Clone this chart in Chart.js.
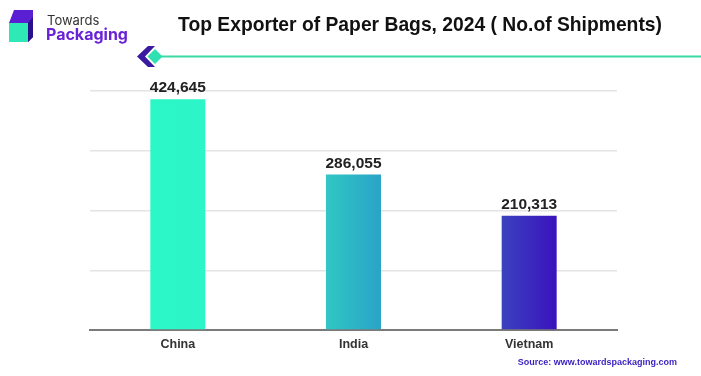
<!DOCTYPE html>
<html><head><meta charset="utf-8">
<script src="https://cdn.jsdelivr.net/npm/chart.js@4/dist/chart.umd.min.js"></script>
<style>html,body{margin:0;padding:0;background:#fff;}#wrap{width:701px;height:376px;position:relative;}</style>
</head><body><div id="wrap"><canvas id="c" width="701" height="376"></canvas></div>
<script>
const categories = ["China", "India", "Vietnam"];
const shipments = [424645, 286055, 210313];
const valueLabels = ["424,645", "286,055", "210,313"];
const titleText = "Top Exporter of Paper Bags, 2024 ( No.of Shipments)";
const sourceText = "Source: www.towardspackaging.com";
const barColors = [["#2bf7c6", "#2cf5c8"], ["#2fc7c4", "#2aa3c8"], ["#3a42bf", "#3a12bd"]];

const FONT = "'Liberation Sans', Arial, sans-serif";
const LOGOFONT = "Inter, Roboto, sans-serif";

const decor = {
  id: 'decor',
  afterDraw(chart) {
    const ctx = chart.ctx;
    ctx.save();
    // logo
    ctx.fillStyle = '#5a1fd3';
    ctx.beginPath(); ctx.moveTo(14,10); ctx.lineTo(33,10); ctx.lineTo(33,37); ctx.lineTo(28,42); ctx.lineTo(28,23); ctx.lineTo(9,23); ctx.closePath(); ctx.fill();
    ctx.fillStyle = '#2a0f8a';
    ctx.beginPath(); ctx.moveTo(28,23); ctx.lineTo(33,17); ctx.lineTo(33,37); ctx.lineTo(28,42); ctx.closePath(); ctx.fill();
    ctx.fillStyle = '#2ee8b6';
    ctx.fillRect(9,23,19,19);
    ctx.textBaseline = 'alphabetic'; ctx.textAlign = 'left';
    ctx.fillStyle = '#333'; ctx.font = "13px " + LOGOFONT;
    ctx.fillText('Towards', 47, 25);
    ctx.fillStyle = '#6a22d6'; ctx.font = "bold 16px " + LOGOFONT;
    ctx.fillText('Packaging', 46, 40);
    // title
    ctx.fillStyle = '#111'; ctx.font = "bold 19.3px " + FONT; ctx.textAlign = 'center';
    ctx.fillText(titleText, 420, 31);
    // divider
    ctx.strokeStyle = '#3ddaa6'; ctx.lineWidth = 2;
    ctx.beginPath(); ctx.moveTo(160,56.5); ctx.lineTo(701,56.5); ctx.stroke();
    ctx.fillStyle = '#3a1a9e';
    ctx.beginPath(); ctx.moveTo(148,46); ctx.lineTo(155,46); ctx.lineTo(145,56.5); ctx.lineTo(155,67); ctx.lineTo(148,67); ctx.lineTo(137,56.5); ctx.closePath(); ctx.fill();
    ctx.fillStyle = '#2ee0b2';
    ctx.beginPath(); ctx.moveTo(155,49); ctx.lineTo(162.5,56.5); ctx.lineTo(155,64); ctx.lineTo(147.5,56.5); ctx.closePath(); ctx.fill();
    // value labels
    const meta = chart.getDatasetMeta(0);
    ctx.fillStyle = '#222'; ctx.font = "bold 15.5px " + FONT; ctx.textAlign = 'center'; ctx.textBaseline = 'alphabetic';
    meta.data.forEach((bar, i) => { ctx.fillText(valueLabels[i], bar.x, bar.y - 7); });
    // source
    ctx.fillStyle = '#3a1fc0'; ctx.font = "bold 9px " + FONT; ctx.textAlign = 'right';
    ctx.fillText(sourceText, 677, 365);
    ctx.restore();
  }
};

new Chart(document.getElementById('c'), {
  type: 'bar',
  data: {
    labels: categories,
    datasets: [{
      data: shipments,
      backgroundColor(ctx) {
        const chart = ctx.chart; const area = chart.chartArea;
        const i = ctx.dataIndex;
        const c = barColors[i] || barColors[0];
        const xs = chart.scales && chart.scales.x;
        if (!area || !xs) return c[0];
        const x = xs.getPixelForValue(i);
        const w = (area.right - area.left) / categories.length * 0.313;
        if (!isFinite(x) || !isFinite(w)) return c[0];
        const g = chart.ctx.createLinearGradient(x - w/2, 0, x + w/2, 0);
        g.addColorStop(0, c[0]);
        g.addColorStop(1, c[1]);
        return g;
      },
      barPercentage: 0.313,
      categoryPercentage: 1
    }]
  },
  options: {
    responsive: false,
    animation: false,
    layout: { padding: { top: 91, left: 90, right: 84, bottom: 17 } },
    plugins: { legend: { display: false }, tooltip: { enabled: false }, title: { display: false } },
    scales: {
      x: {
        grid: { display: false, drawTicks: false },
        border: { display: true, color: '#7a7a7a', width: 2 },
        ticks: { color: '#333', font: { family: FONT, size: 12.5, weight: 'bold' }, padding: 7 }
      },
      y: {
        min: 0, max: 440000,
        ticks: { display: false, stepSize: 110000 },
        grid: { color: '#e4e4e4', lineWidth: 1.5, drawTicks: false },
        border: { display: false }
      }
    }
  },
  plugins: [decor]
});
</script>
</body></html>
